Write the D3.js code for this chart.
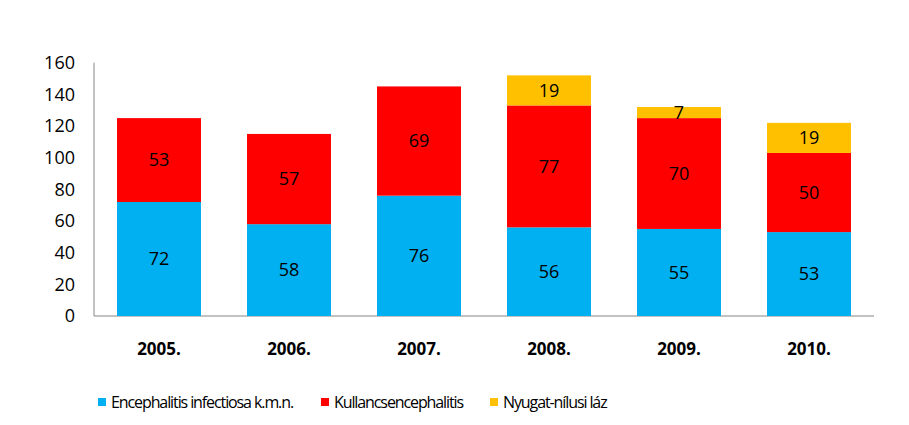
<!DOCTYPE html>
<html>
<head>
<meta charset="utf-8">
<script src="https://d3js.org/d3.v7.min.js"></script>
<style>
body { margin: 0; background: #fff; }
svg { display: block; font-family: "Open Sans", "Liberation Sans", sans-serif; }
</style>
</head>
<body>
<svg width="909" height="425"></svg>
<script>
var years = ["2005.", "2006.", "2007.", "2008.", "2009.", "2010."];
var encephalitis = [72, 58, 76, 56, 55, 53];
var kullancs = [53, 57, 69, 77, 70, 50];
var nyugat = [0, 0, 0, 19, 7, 19];
var seriesNames = ["Encephalitis infectiosa k.m.n.", "Kullancsencephalitis", "Nyugat-nílusi láz"];
var yTicks = [0, 20, 40, 60, 80, 100, 120, 140, 160];

var svg = d3.select("svg");
var color = ["#00b0f0", "#ff0000", "#ffc000"];

var table = years.map(function(y, i) {
  return { year: y, s0: encephalitis[i], s1: kullancs[i], s2: nyugat[i] };
});
var stack = d3.stack().keys(["s0", "s1", "s2"])(table);

var x = d3.scaleBand()
    .domain(years)
    .range([94, 874])
    .paddingInner(0.354)
    .paddingOuter(0.177);

var y = d3.scaleLinear()
    .domain([0, 160])
    .range([316, 62.7]);

// axes
svg.append("line")
    .attr("x1", 94).attr("x2", 94)
    .attr("y1", y(160)).attr("y2", y(0))
    .attr("stroke", "#868686");
svg.append("line")
    .attr("x1", 94).attr("x2", 874)
    .attr("y1", y(0)).attr("y2", y(0))
    .attr("stroke", "#868686");

svg.append("g").selectAll("text")
    .data(yTicks)
    .enter().append("text")
    .attr("x", 75)
    .attr("y", function(d) { return y(d); })
    .attr("dy", "0.35em")
    .attr("text-anchor", "end")
    .attr("font-size", 18)
    .attr("fill", "#000")
    .text(function(d) { return d; });

var layers = svg.append("g").selectAll("g")
    .data(stack)
    .enter().append("g")
    .attr("fill", function(d, i) { return color[i]; });

layers.selectAll("rect")
    .data(function(d) { return d.filter(function(p) { return p[1] - p[0] > 0; }); })
    .enter().append("rect")
    .attr("x", function(d) { return x(d.data.year); })
    .attr("width", x.bandwidth())
    .attr("y", function(d) { return y(d[1]); })
    .attr("height", function(d) { return y(d[0]) - y(d[1]); });

layers.selectAll("text")
    .data(function(d) { return d.filter(function(p) { return p[1] - p[0] > 0; }); })
    .enter().append("text")
    .attr("x", function(d) { return x(d.data.year) + x.bandwidth() / 2; })
    .attr("y", function(d) { return y((d[0] + d[1]) / 2); })
    .attr("dy", "0.35em")
    .attr("text-anchor", "middle")
    .attr("font-size", 18)
    .attr("fill", "#000")
    .text(function(d) { return d[1] - d[0]; });

svg.append("g").selectAll("text")
    .data(years)
    .enter().append("text")
    .attr("x", function(d) { return x(d) + x.bandwidth() / 2; })
    .attr("y", 349)
    .attr("dy", "0.35em")
    .attr("text-anchor", "middle")
    .attr("font-size", 17)
    .attr("font-weight", "bold")
    .attr("fill", "#000")
    .text(function(d) { return d; });

// legend
var legendX = [98, 321, 490];
var legend = svg.append("g").selectAll("g")
    .data(seriesNames)
    .enter().append("g")
    .attr("transform", function(d, i) { return "translate(" + legendX[i] + ",402)"; });
legend.append("rect")
    .attr("x", 0).attr("y", -4)
    .attr("width", 8).attr("height", 8)
    .attr("fill", function(d, i) { return color[i]; });
legend.append("text")
    .attr("x", 13)
    .attr("dy", "0.35em")
    .attr("font-size", 16)
    .attr("letter-spacing", -1.1)
    .attr("fill", "#000")
    .text(function(d) { return d; });
</script>
</body>
</html>
